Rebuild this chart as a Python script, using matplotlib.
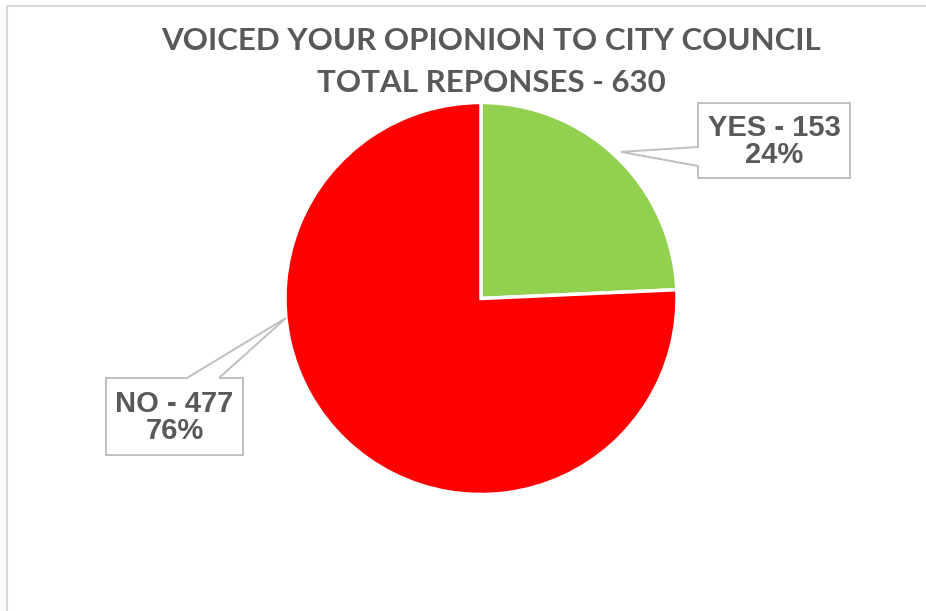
import numpy as np
import matplotlib
matplotlib.use("Agg")
import matplotlib.pyplot as plt
from matplotlib.patches import Polygon
from matplotlib.lines import Line2D

# ---- data ----
categories = ["YES", "NO"]
counts = [153, 477]
colors = ["#92D050", "#FF0000"]
title_lines = ["VOICED YOUR OPIONION TO CITY COUNCIL", "TOTAL REPONSES - 630"]

W, H = 926, 611
fig = plt.figure(figsize=(W / 100, H / 100), dpi=100)
ax = fig.add_axes([0, 0, 1, 1])

def Y(y):  # pixel-from-top -> data y
    return H - y

cx, cy, R = 481, Y(298.5), 196
explode = [0.035, 0.0]
wedges, _ = ax.pie(counts, colors=colors, startangle=90, counterclock=False,
                   explode=explode, center=(cx, cy), radius=R,
                   wedgeprops=dict(edgecolor="white", linewidth=2.5))
ax.set_xlim(0, W)
ax.set_ylim(0, H)
ax.set_aspect("equal")
ax.axis("off")

total = sum(counts)
fracs = [c / total for c in counts]
ang = []
start = 90
for f in fracs:
    end = start - 360 * f
    ang.append((start + end) / 2)
    start = end

txtcol = "#595959"
boxcol = "#BFBFBF"
lab_fs = 21

# YES callout (anchor at mid-angle of exploded wedge)
t = np.deg2rad(ang[0])
ex = explode[0] * R
ax_y = (cx + (ex + R) * np.cos(t), cy + (ex + R) * np.sin(t))
bx0, by0, bx1, by1 = 698, 103, 850, 178
verts = [(bx0, Y(by0)), (bx1, Y(by0)), (bx1, Y(by1)), (bx0, Y(by1)),
         (bx0, Y(166)), ax_y, (bx0, Y(147))]
ax.add_patch(Polygon(verts, closed=True, facecolor="white", edgecolor=boxcol,
                     linewidth=1.4, zorder=5))
ax.text((bx0 + bx1) / 2, Y((by0 + by1) / 2 + 1),
        f"{categories[0]} - {counts[0]}\n{round(fracs[0]*100)}%",
        ha="center", va="center", fontsize=lab_fs, fontweight="bold",
        family="Liberation Sans", color=txtcol, linespacing=0.97, zorder=6)

# NO callout (leader anchored at the left edge of the pie)
t = np.deg2rad(185.7)
ax_n = (cx + R * np.cos(t), cy + R * np.sin(t))
nx0, ny0, nx1, ny1 = 106, 378, 243, 455
verts = [(nx0, Y(ny0)), (187, Y(ny0)), ax_n, (219, Y(ny0)), (nx1, Y(ny0)),
         (nx1, Y(ny1)), (nx0, Y(ny1))]
ax.add_patch(Polygon(verts, closed=True, facecolor="white", edgecolor=boxcol,
                     linewidth=1.4, zorder=5))
ax.text((nx0 + nx1) / 2, Y((ny0 + ny1) / 2 + 1),
        f"{categories[1]} - {counts[1]}\n{round(fracs[1]*100)}%",
        ha="center", va="center", fontsize=lab_fs, fontweight="bold",
        family="Liberation Sans", color=txtcol, linespacing=0.97, zorder=6)

# title
ax.text(491, Y(50), title_lines[0], ha="center", va="baseline", fontsize=22.5,
        fontweight="bold", family="Lato", color=txtcol)
ax.text(491, Y(92), title_lines[1], ha="center", va="baseline", fontsize=22.5,
        fontweight="bold", family="Lato", color=txtcol)

# chart frame (partially visible)
fig.add_artist(Line2D([7 / W, 1], [1 - 6 / H, 1 - 6 / H], transform=fig.transFigure,
                      color="#D9D9D9", linewidth=1.5))
fig.add_artist(Line2D([7 / W, 7 / W], [0, 1 - 6 / H], transform=fig.transFigure,
                      color="#D9D9D9", linewidth=1.5))

fig.savefig("out.png", dpi=100, facecolor="white")
